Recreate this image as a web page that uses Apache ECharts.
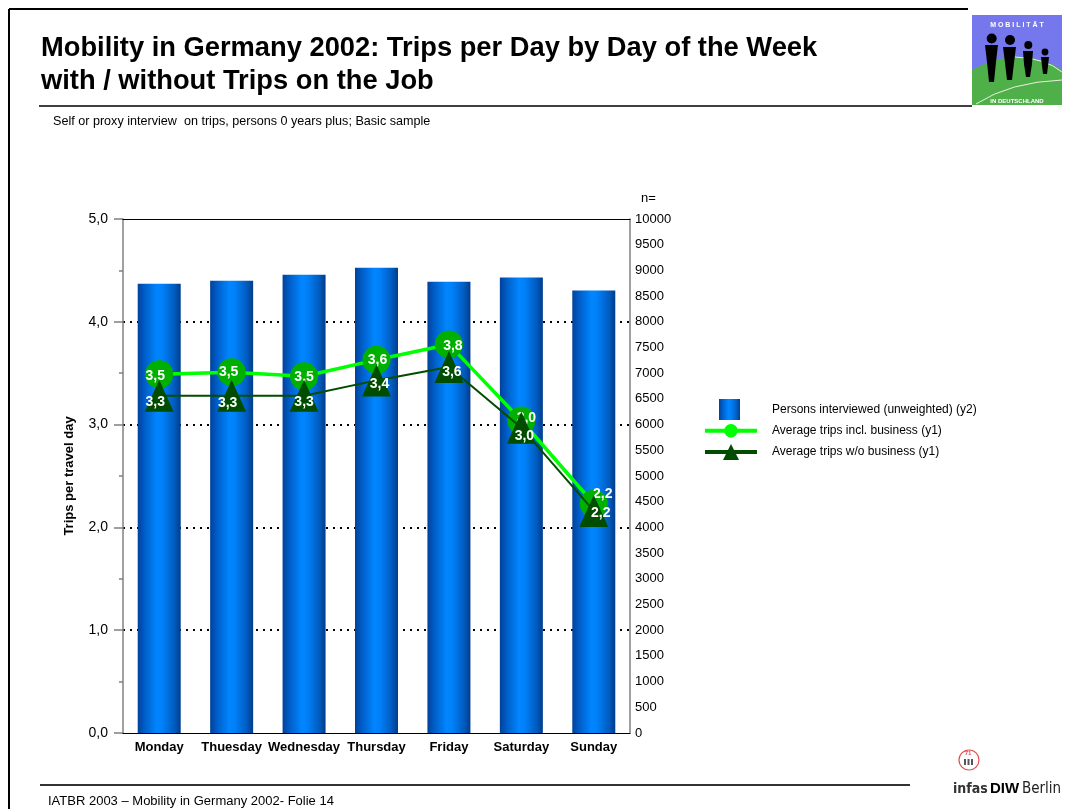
<!DOCTYPE html>
<html><head><meta charset="utf-8">
<script src="https://cdn.jsdelivr.net/npm/echarts@6/dist/echarts.min.js"></script>
<style>html,body{margin:0;padding:0;background:#fff}#c{width:1071px;height:809px}</style>
</head><body><div id="c"></div>
<script>
// ---- data ----
const categories = ['Monday', 'Thuesday', 'Wednesday', 'Thursday', 'Friday', 'Saturday', 'Sunday'];
const personsInterviewed = [8740, 8800, 8915, 9050, 8780, 8860, 8610];
const tripsInclBusiness = [3.49, 3.51, 3.47, 3.63, 3.78, 3.04, 2.23];
const tripsWithoutBusiness = [3.28, 3.28, 3.28, 3.43, 3.56, 2.97, 2.16];
const seriesNames = ['Persons interviewed (unweighted) (y2)', 'Average trips incl. business (y1)', 'Average trips w/o business (y1)'];
const y1Range = [0, 5, 1];
const y2Range = [0, 10000, 500];

// ---- label nudges (style only) ----
const inclLabelOffsets = [[-4, 2], [-3, 0], [0, 1], [1, 0], [4, 2], [5, -2], [9, -10]];
const woLabelOffsets = [[-4, 6], [-4, 7], [0, 6], [3, 4], [3, 5], [3, 8], [7, 2]];

const FONT = '"Liberation Sans", Arial, Helvetica, sans-serif';
const fmt1 = v => Number(v).toFixed(1).replace('.', ',');

const barGradient = {
  type: 'linear', x: 0, y: 0, x2: 1, y2: 0,
  colorStops: [
    { offset: 0, color: '#00429a' },
    { offset: 0.18, color: '#0060cc' },
    { offset: 0.45, color: '#0086ff' },
    { offset: 0.58, color: '#0080f8' },
    { offset: 0.85, color: '#005cc0' },
    { offset: 1, color: '#003c8c' }
  ]
};

const chart = echarts.init(document.getElementById('c'), null, { renderer: 'canvas' });

const labelCommon = { show: true, color: '#fff', fontFamily: FONT, fontWeight: 'bold', fontSize: 14, position: 'inside' };

const option = {
  backgroundColor: '#fff',
  animation: false,
  textStyle: { fontFamily: FONT },
  title: [
    { text: 'Mobility in Germany 2002: Trips per Day by Day of the Week\nwith / without Trips on the Job',
      left: 41, top: 32, padding: 0,
      textStyle: { fontFamily: FONT, fontSize: 27.3, fontWeight: 'bold', color: '#000', lineHeight: 33 } },
    { text: 'Self or proxy interview  on trips, persons 0 years plus; Basic sample',
      left: 53, top: 115, padding: 0,
      textStyle: { fontFamily: FONT, fontSize: 12.6, fontWeight: 'normal', color: '#000' } },
    { text: 'IATBR 2003 \u2013 Mobility in Germany 2002- Folie 14',
      left: 48, top: 795, padding: 0,
      textStyle: { fontFamily: FONT, fontSize: 13, fontWeight: 'normal', color: '#000' } }
  ],
  grid: { left: 123, right: 441, top: 219, bottom: 76, containLabel: false },
  legend: [
    { data: [{ name: seriesNames[0], icon: 'rect' }], left: 719, top: 399, padding: 0,
      itemWidth: 21, itemHeight: 21, selectedMode: false,
      textStyle: { fontFamily: FONT, fontSize: 12, color: '#000', padding: [0, 0, 0, 27] } },
    { data: [{ name: seriesNames[1], itemStyle: { color: '#00ff00' }, lineStyle: { width: 4 } }],
      left: 703, top: 424, padding: 0, itemWidth: 52, itemHeight: 17, selectedMode: false,
      textStyle: { fontFamily: FONT, fontSize: 12, color: '#000', padding: [0, 0, 0, 10] } },
    { data: [{ name: seriesNames[2], lineStyle: { width: 4 } }],
      left: 703, top: 444, padding: 0, itemWidth: 52, itemHeight: 20, selectedMode: false,
      textStyle: { fontFamily: FONT, fontSize: 12, color: '#000', padding: [0, 0, 0, 10] } }
  ],
  xAxis: [
    { type: 'category', data: categories, position: 'bottom', z: 6,
      axisLine: { onZero: false, lineStyle: { color: '#000', width: 1.2 } },
      axisTick: { show: false },
      axisLabel: { color: '#000', fontFamily: FONT, fontWeight: 'bold', fontSize: 13, margin: 8, interval: 0 } },
    { type: 'category', data: categories, position: 'top', z: 6,
      axisLine: { onZero: false, lineStyle: { color: '#000', width: 1.2 } },
      axisTick: { show: false }, axisLabel: { show: false } }
  ],
  yAxis: [
    { type: 'value', min: y1Range[0], max: y1Range[1], interval: y1Range[2], position: 'left',
      name: 'Trips per travel day', nameLocation: 'middle', nameGap: 47,
      nameTextStyle: { fontFamily: FONT, fontSize: 13, fontWeight: 'bold', color: '#000' },
      axisLine: { show: true, lineStyle: { color: '#808080', width: 1.5 } },
      axisTick: { show: true, inside: false, length: 9, lineStyle: { color: '#808080', width: 1.5 } },
      minorTick: { show: true, splitNumber: 2, length: 4, lineStyle: { color: '#808080', width: 1.5 } },
      axisLabel: { color: '#000', fontFamily: FONT, fontSize: 14, margin: 15, formatter: fmt1 },
      splitLine: { show: true, showMinLine: false, showMaxLine: false, lineStyle: { color: '#000', width: 2, type: [2, 5] } } },
    { type: 'value', min: y2Range[0], max: y2Range[1], interval: y2Range[2], position: 'right',
      name: 'n=', nameLocation: 'end', nameGap: 14,
      nameTextStyle: { fontFamily: FONT, fontSize: 13, color: '#000', align: 'left', padding: [0, 0, 0, 11] },
      axisLine: { show: true, lineStyle: { color: '#808080', width: 1.5 } },
      axisTick: { show: false },
      axisLabel: { color: '#000', fontFamily: FONT, fontSize: 13, margin: 5, formatter: v => String(v) },
      splitLine: { show: false } }
  ],
  series: [
    { name: seriesNames[0], type: 'bar', xAxisIndex: 0, yAxisIndex: 1, barWidth: 43,
      data: personsInterviewed, itemStyle: { color: barGradient }, z: 1 },
    { name: seriesNames[1], type: 'line', xAxisIndex: 0, yAxisIndex: 0, z: 3,
      data: tripsInclBusiness.map((v, i) => ({ value: v, label: { offset: inclLabelOffsets[i] } })),
      symbol: 'circle', symbolSize: 28,
      itemStyle: { color: '#00b000' },
      lineStyle: { color: '#00ff00', width: 3.5 },
      label: Object.assign({}, labelCommon, { formatter: p => fmt1(p.value) }) },
    { name: seriesNames[2], type: 'line', xAxisIndex: 0, yAxisIndex: 0, z: 4,
      data: tripsWithoutBusiness.map((v, i) => ({ value: v, label: { offset: woLabelOffsets[i] } })),
      symbol: 'triangle', symbolSize: [29, 32],
      itemStyle: { color: '#004d00' },
      lineStyle: { color: '#004d00', width: 2 },
      label: Object.assign({}, labelCommon, { formatter: p => fmt1(p.value) }) }
  ],
  graphic: [
    // page frame
    { type: 'line', shape: { x1: 9, y1: 9, x2: 968, y2: 9 }, style: { stroke: '#000', lineWidth: 2 } },
    { type: 'line', shape: { x1: 9, y1: 9, x2: 9, y2: 809 }, style: { stroke: '#000', lineWidth: 2 } },
    // title rule and footer rule
    { type: 'line', shape: { x1: 39, y1: 106, x2: 972, y2: 106 }, style: { stroke: '#000', lineWidth: 1.5 } },
    { type: 'line', shape: { x1: 40, y1: 785, x2: 910, y2: 785 }, style: { stroke: '#333', lineWidth: 2 } },
    // Mobilität logo
    { type: 'rect', shape: { x: 972, y: 15, width: 90, height: 90 }, style: { fill: '#7478ec' } },
    { type: 'polygon', shape: { points: [[972, 70], [982, 65], [992, 61], [1004, 58], [1018, 57], [1032, 58], [1044, 61], [1054, 65], [1062, 70], [1062, 105], [972, 105]] }, style: { fill: '#4fb04a' } },
    { type: 'bezierCurve', shape: { x1: 1015, y1: 57, cpx1: 1045, cpy1: 58, x2: 1062, y2: 72 }, style: { fill: null, stroke: '#e8f0e0', lineWidth: 1 } },
    { type: 'bezierCurve', shape: { x1: 976, y1: 104, cpx1: 1010, cpy1: 82, x2: 1062, y2: 80 }, style: { fill: null, stroke: '#e8f0e0', lineWidth: 1 } },
    { type: 'text', style: { x: 1017, y: 25, text: 'M O B I L I T \u00c4 T', fill: '#fff', font: 'bold 7px ' + FONT, textAlign: 'center', textVerticalAlign: 'middle' } },
    { type: 'text', style: { x: 1017, y: 101, text: 'IN DEUTSCHLAND', fill: '#fff', font: 'bold 6px ' + FONT, textAlign: 'center', textVerticalAlign: 'middle' } },
    { type: 'circle', shape: { cx: 991.7, cy: 38.5, r: 5 }, style: { fill: '#000' } },
    { type: 'polygon', shape: { points: [[985, 45], [998, 45], [996, 62], [994, 82], [989, 82], [987, 62]] }, style: { fill: '#000' } },
    { type: 'circle', shape: { cx: 1010, cy: 40, r: 5 }, style: { fill: '#000' } },
    { type: 'polygon', shape: { points: [[1003, 47], [1016, 47], [1014, 63], [1012, 80], [1007, 80], [1005, 63]] }, style: { fill: '#000' } },
    { type: 'circle', shape: { cx: 1028.3, cy: 45, r: 4 }, style: { fill: '#000' } },
    { type: 'polygon', shape: { points: [[1023, 51], [1033, 51], [1032, 64], [1030, 77], [1026, 77], [1024, 64]] }, style: { fill: '#000' } },
    { type: 'circle', shape: { cx: 1045, cy: 52, r: 3.4 }, style: { fill: '#000' } },
    { type: 'polygon', shape: { points: [[1041, 57], [1049, 57], [1048, 66], [1047, 74], [1043, 74], [1042, 66]] }, style: { fill: '#000' } },
    // infas DIW Berlin logo
    { type: 'circle', shape: { cx: 969, cy: 760, r: 10 }, style: { fill: null, stroke: '#e05050', lineWidth: 1.2 } },
    { type: 'rect', shape: { x: 964, y: 759, width: 2, height: 6 }, style: { fill: '#555' } },
    { type: 'rect', shape: { x: 967.5, y: 759, width: 2, height: 6 }, style: { fill: '#555' } },
    { type: 'rect', shape: { x: 971, y: 759, width: 2, height: 6 }, style: { fill: '#555' } },
    { type: 'text', style: { x: 968, y: 753, text: '71', fill: '#e05050', font: 'bold 6px ' + FONT, textAlign: 'center', textVerticalAlign: 'middle' } },
    { type: 'text', style: { x: 953, y: 789, text: 'infas', fill: '#333', font: 'bold 14px "DejaVu Sans Condensed", ' + FONT, textVerticalAlign: 'middle' } },
    { type: 'text', style: { x: 990, y: 789, text: 'DIW', fill: '#000', font: 'bold 15px ' + FONT, textVerticalAlign: 'middle' } },
    { type: 'text', style: { x: 1022, y: 789, text: 'Berlin', fill: '#222', font: '15px "DejaVu Sans Condensed", ' + FONT, textVerticalAlign: 'middle' } }
  ]
};
chart.setOption(option);
</script>
</body></html>
